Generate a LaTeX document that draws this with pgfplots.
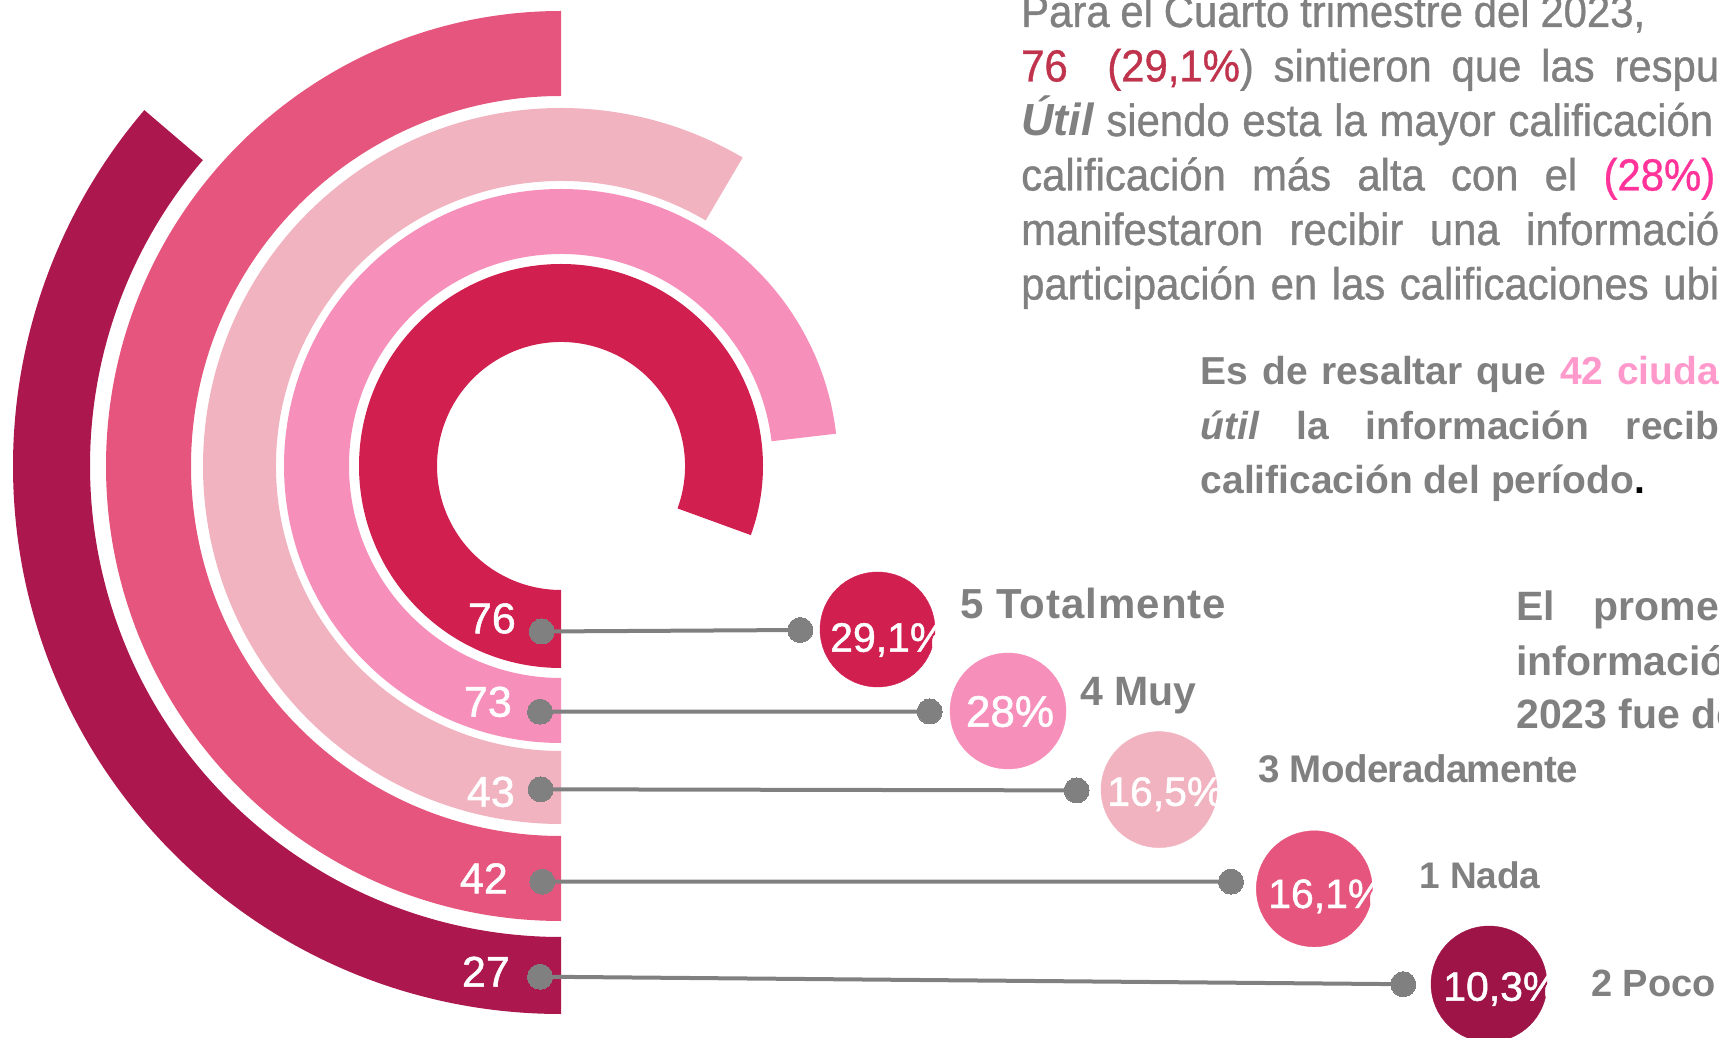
\documentclass[border=0pt]{standalone}
\usepackage{fontspec}
\setmainfont{Liberation Sans}
\newfontfamily\bodyfont{Liberation Sans}[FakeStretch=0.93,FakeBold=0.8]
\newfontfamily\numfont{Liberation Sans}[FakeBold=1.2]
\usepackage{pgfplots}
\pgfplotsset{compat=1.18}
\definecolor{c76}{HTML}{D11F4F}
\definecolor{c73}{HTML}{F78FBB}
\definecolor{c43}{HTML}{F1B3C0}
\definecolor{c42}{HTML}{E6557E}
\definecolor{c27}{HTML}{AC174D}
\definecolor{c27b}{HTML}{9E1446}
\definecolor{txtgray}{HTML}{808080}
\definecolor{dotgray}{HTML}{808080}
\definecolor{red1}{HTML}{C0334D}
\definecolor{hot}{HTML}{FF3399}
\definecolor{lpink}{HTML}{FF99CC}
\newcommand{\fs}[1]{\fontsize{#1}{#1}\selectfont}
\begin{document}
\begin{tikzpicture}
\begin{axis}[at={(0,0)}, anchor=south west, x=1pt, y=1pt,
  xmin=0, xmax=1719, ymin=0, ymax=1037, hide axis, clip=false]
% rings (value, outer/inner radius, end angle)
\fill[c27] (561,571) ++(270:548pt) arc[start angle=270,end angle=139.5,radius=548pt] -- ++(-40.5:77pt) arc[start angle=139.5,end angle=270,radius=471pt] -- cycle;
\fill[c42] (561,571) ++(270:455pt) arc[start angle=270,end angle=90,radius=455pt] -- ++(270:85pt) arc[start angle=90,end angle=270,radius=370pt] -- cycle;
\fill[c43] (561,571) ++(270:358pt) arc[start angle=270,end angle=59.5,radius=358pt] -- ++(239.5:73pt) arc[start angle=59.5,end angle=270,radius=285pt] -- cycle;
\fill[c73] (561,571) ++(270:277pt) arc[start angle=270,end angle=6.7,radius=277pt] -- ++(186.7:65pt) arc[start angle=6.7,end angle=270,radius=212pt] -- cycle;
\fill[c76] (561,571) ++(270:202pt) arc[start angle=270,end angle=-20,radius=202pt] -- ++(160:78pt) arc[start angle=-20,end angle=270,radius=124pt] -- cycle;
% values in rings
\node[anchor=base east, inner sep=0pt, text=white] at (516,403.7) {\numfont\fs{43}76};
\node[anchor=base east, inner sep=0pt, text=white] at (512,320.3) {\numfont\fs{43}73};
\node[anchor=base east, inner sep=0pt, text=white] at (515,230.3) {\numfont\fs{43}43};
\node[anchor=base east, inner sep=0pt, text=white] at (508,143.7) {\numfont\fs{43}42};
\node[anchor=base east, inner sep=0pt, text=white] at (510,50.3) {\numfont\fs{43}27};
% connector lines with dots
\pgfplotsset{conn/.style={draw=dotgray, line width=4pt, mark=*, mark size=12.5pt, mark options={fill=dotgray, draw=dotgray, line width=0pt}}}
\addplot[conn] coordinates {(541.7,405.5) (800.3,407)};
\addplot[conn] coordinates {(540,325.3) (929.7,325.5)};
\addplot[conn] coordinates {(540.7,247.7) (1076.6,246.6)};
\addplot[conn] coordinates {(542.3,155.3) (1231,155.4)};
\addplot[conn] coordinates {(540,60.3) (1403.3,52.8)};
% bubbles
\addplot[only marks, mark=*, mark size=57.5pt, mark options={fill=c76, draw=c76}] coordinates {(877.5,407.5)};
\addplot[only marks, mark=*, mark size=58pt, mark options={fill=c73, draw=c73}] coordinates {(1008,326)};
\addplot[only marks, mark=*, mark size=58pt, mark options={fill=c43, draw=c43}] coordinates {(1159,247.4)};
\addplot[only marks, mark=*, mark size=58pt, mark options={fill=c42, draw=c42}] coordinates {(1314.3,148.2)};
\addplot[only marks, mark=*, mark size=58pt, mark options={fill=c27b, draw=c27b}] coordinates {(1489,53)};
% category labels
\node[anchor=base west, inner sep=0pt, text=txtgray] at (960,418.7) {\fs{42}\bfseries\addfontfeature{LetterSpace=2.4}5 Totalmente};
\node[anchor=base west, inner sep=0pt, text=txtgray] at (1080,331.3) {\fs{41}\bfseries 4 Muy};
\node[anchor=base west, inner sep=0pt, text=txtgray] at (1258,254.3) {\fs{38.5}\bfseries\addfontfeature{LetterSpace=-1.5}3 Moderadamente};
\node[anchor=base west, inner sep=0pt, text=txtgray] at (1419,149) {\fs{37}\bfseries 1 Nada};
\node[anchor=base west, inner sep=0pt, text=txtgray] at (1591,41) {\fs{38}\bfseries 2 Poco};
% text block 1
\node[anchor=base west, inner sep=0pt, text=txtgray] at (1021,1010) {\bodyfont\fs{45}\makebox[624pt][s]{Para el Cuarto trimestre del 2023,}};
\node[anchor=base west, inner sep=0pt, text=txtgray] at (1021,955.5) {\bodyfont\fs{45}\makebox[698pt][s]{\textcolor{red1}{76}\ \ \textcolor{red1}{(29,1\%}) sintieron que las respu}};
\node[anchor=base west, inner sep=0pt, text=txtgray] at (1021,901) {\bodyfont\fs{45}\makebox[692pt][s]{{\normalfont\fs{45}\bfseries\itshape Útil} siendo esta la mayor calificación}};
\node[anchor=base west, inner sep=0pt, text=txtgray] at (1021,846.5) {\bodyfont\fs{45}\makebox[694pt][s]{calificación más alta con el \textcolor{hot}{(28\%)}}};
\node[anchor=base west, inner sep=0pt, text=txtgray] at (1021,792) {\bodyfont\fs{45}\makebox[698pt][s]{manifestaron recibir una informació}};
\node[anchor=base west, inner sep=0pt, text=txtgray] at (1021,737.5) {\bodyfont\fs{45}\makebox[698pt][s]{participación en las calificaciones ubi}};
% text block 2
\node[anchor=base west, inner sep=0pt, text=txtgray] at (1200.5,652) {\fs{39}\bfseries\makebox[518.5pt][s]{Es de resaltar que \textcolor{lpink}{42 ciuda}}};
\node[anchor=base west, inner sep=0pt, text=txtgray] at (1200.5,597.5) {\fs{39}\bfseries\makebox[518.5pt][s]{\textit{útil} la información recib}};
\node[anchor=base west, inner sep=0pt, text=txtgray] at (1200.5,543.5) {\fs{39}\bfseries calificación del período\textcolor{black}{.}};
% text block 3
\node[anchor=base west, inner sep=0pt, text=txtgray] at (1516,416.5) {\fs{41}\bfseries\makebox[203pt][s]{El prome}};
\node[anchor=base west, inner sep=0pt, text=txtgray] at (1516,361.7) {\fs{41}\bfseries información};
\node[anchor=base west, inner sep=0pt, text=txtgray] at (1516,308) {\fs{41}\bfseries 2023 fue de};
\end{axis}
% percentages on top of the bubbles (axis units are 1pt with origin at (0,0))
\node[anchor=base west, inner sep=0pt, text=white] at (830pt,385.3pt) {\numfont\fs{41}29,1\%};
\node[anchor=base, inner sep=0pt, text=white] at (1010pt,310.3pt) {\numfont\fs{44}28\%};
\node[anchor=base west, inner sep=0pt, text=white] at (1107pt,231.2pt) {\numfont\fs{41}16,5\%};
\node[anchor=base west, inner sep=0pt, text=white] at (1268pt,129pt) {\numfont\fs{41}16,1\%};
\node[anchor=base west, inner sep=0pt, text=white] at (1443pt,36.3pt) {\numfont\fs{41}10,3\%};
\pgfresetboundingbox
\useasboundingbox (0,0) rectangle (1719pt,1037pt);
\end{tikzpicture}
\end{document}
